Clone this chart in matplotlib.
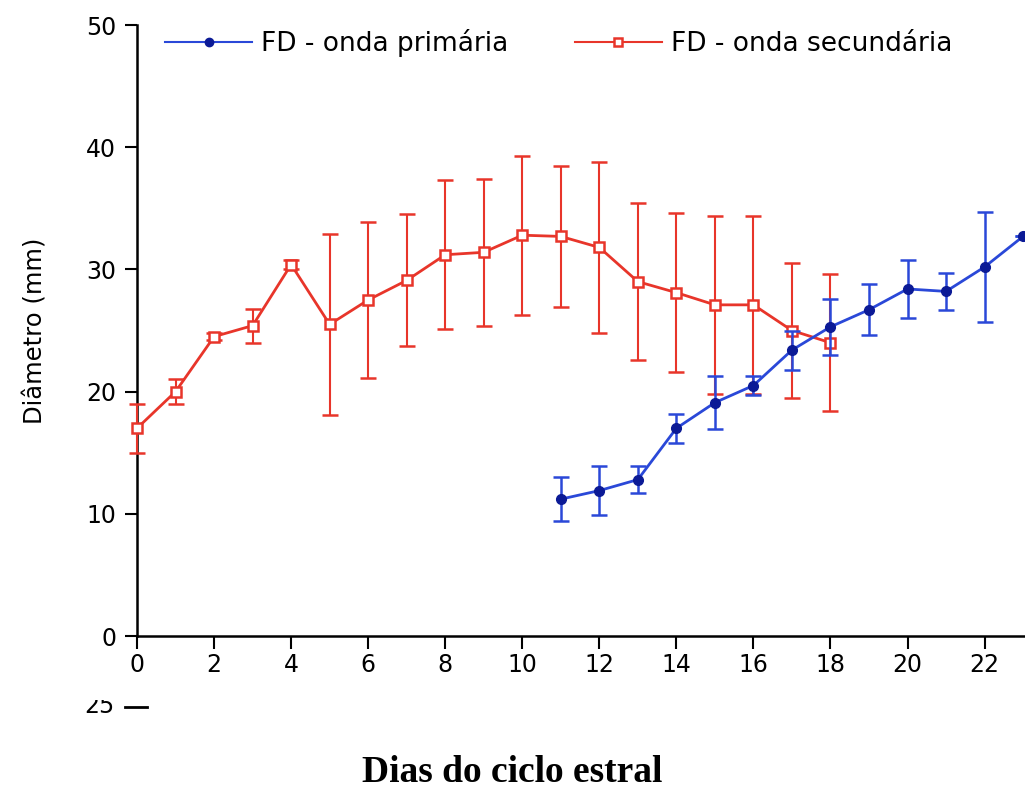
import numpy as np
import matplotlib
matplotlib.use('Agg')
import matplotlib.pyplot as plt
from matplotlib.lines import Line2D
from matplotlib.patches import Rectangle

# FD - onda secundaria (red, days 0-18)
sec_days = [0, 1, 2, 3, 4, 5, 6, 7, 8, 9, 10, 11, 12, 13, 14, 15, 16, 17, 18]
sec_mean = [17.0, 20.0, 24.5, 25.4, 30.4, 25.5, 27.5, 29.1, 31.2, 31.4, 32.8,
            32.7, 31.8, 29.0, 28.1, 27.1, 27.1, 25.0, 24.0]
sec_err = [2.0, 1.0, 0.3, 1.4, 0.4, 7.4, 6.4, 5.4, 6.1, 6.0, 6.5,
           5.8, 7.0, 6.4, 6.5, 7.3, 7.3, 5.5, 5.6]

# FD - onda primaria (blue, days 11-23)
pri_days = [11, 12, 13, 14, 15, 16, 17, 18, 19, 20, 21, 22, 23]
pri_mean = [11.2, 11.9, 12.8, 17.0, 19.1, 20.5, 23.4, 25.3, 26.7, 28.4, 28.2, 30.2, 32.7]
pri_err = [1.8, 2.0, 1.1, 1.2, 2.2, 0.8, 1.6, 2.3, 2.1, 2.35, 1.5, 4.5, 0.0]

xticks = list(range(0, 23, 2))
yticks = [0, 10, 20, 30, 40, 50]

red = '#e8352a'
blue = '#2a48d8'
navy = '#0b1a96'

plt.rcParams['font.family'] = 'DejaVu Sans'

fig = plt.figure(figsize=(10.25, 7.89), dpi=100)
ax = fig.add_axes([0.1337, 0.1939, 0.8663, 0.7744])

ax.errorbar(sec_days, sec_mean, yerr=sec_err, color=red, lw=2, elinewidth=1.5,
            capsize=6, capthick=1.5, marker='s', ms=7, mfc='white', mec=red,
            mew=1.8, clip_on=False, zorder=3)
ax.errorbar(pri_days, pri_mean, yerr=pri_err, color=blue, lw=2, elinewidth=1.8,
            capsize=6, capthick=1.8, marker='o', ms=7, mfc=navy, mec=navy,
            clip_on=False, zorder=4)

ax.set_xlim(0, 23.05)
ax.set_ylim(0, 50)
ax.set_xticks(xticks)
ax.set_yticks(yticks)

for s in ['top', 'right']:
    ax.spines[s].set_visible(False)
for s in ['left', 'bottom']:
    ax.spines[s].set_linewidth(1.8)
ax.tick_params(direction='out', length=9, width=1.5, colors='black', labelsize=17)
ax.tick_params(axis='y', pad=6)
ax.tick_params(axis='x', pad=3)

ax.set_ylabel('Diâmetro (mm)', fontsize=17.5, labelpad=28)

handles = [
    Line2D([], [], color=blue, lw=1.5, marker='o', ms=6, mfc=navy, mec=navy),
    Line2D([], [], color=red, lw=1.5, marker='s', ms=6, mfc='white', mec=red, mew=1.8),
]
labels = ['FD - onda primária', 'FD - onda secundária']
ax.legend(handles, labels, ncol=2, loc='center left',
          bbox_to_anchor=(0.0315, 0.9705), frameon=False,
          borderpad=0, borderaxespad=0,
          handlelength=3.3, columnspacing=2.5, handletextpad=0.35,
          fontsize=19)

fig.text(0.5, 1 - 773 / 789, 'Dias do ciclo estral', ha='center', va='center',
         family='Liberation Serif', weight='bold', fontsize=27)

# fragment of the next panel's axis, top part hidden
fig.text(115 / 1025, 1 - 713 / 789, '25', ha='right', va='baseline', fontsize=17)
fig.lines.append(Line2D([125 / 1025, 147 / 1025], [1 - 707 / 789, 1 - 707 / 789],
                        transform=fig.transFigure, color='black', lw=2))
fig.patches.append(Rectangle((0.05, 1 - 700 / 789), 0.1, 18 / 789,
                             transform=fig.transFigure, facecolor='white',
                             edgecolor='none', zorder=10))

fig.savefig('out.png', dpi=100)
